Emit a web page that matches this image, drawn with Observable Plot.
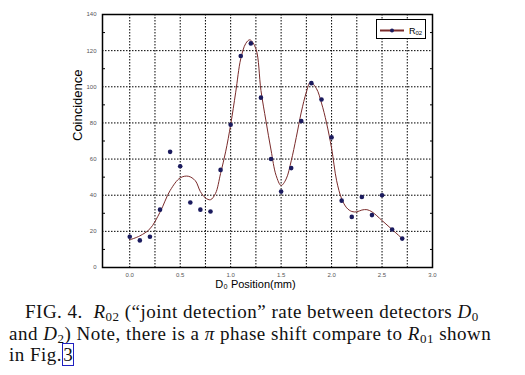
<!DOCTYPE html>
<html>
<head>
<meta charset="utf-8">
<script src="https://cdn.jsdelivr.net/npm/d3@7"></script>
<script src="https://cdn.jsdelivr.net/npm/@observablehq/plot@0.6"></script>
<style>
  html, body { margin: 0; padding: 0; background: #fff; }
  #wrap { position: relative; width: 525px; }
  #legend { position: absolute; left: 376px; top: 19px; width: 50px; height: 20px; border: 1px solid #000; background: #fff; box-sizing: border-box; }
  #caption { font-family: "Liberation Serif", "DejaVu Serif", serif; font-size: 19px; letter-spacing: 0.5px; line-height: 21.7px; color: #111; padding-left: 9px; margin-top: 3px; white-space: nowrap; }
  #caption .l1 { padding-left: 16px; }
  .sub { font-size: 13px; position: relative; top: 3px; line-height: 0; vertical-align: baseline; }
  .lnk { border: 1px solid #2020c0; line-height: 0; }
</style>
</head>
<body>
<div id="wrap">
  <div id="chart"></div>
  <div id="legend"></div>
  <div id="caption">
    <span class="l1">FIG. 4.&nbsp; <i>R</i><span class="sub">02</span> (“joint detection” rate between detectors <i>D</i><span class="sub">0</span></span><br>
    and <i>D</i><span class="sub">2</span>) Note, there is a <i>π</i> phase shift compare to <i>R</i><span class="sub">01</span> shown<br>
    in Fig.<span class="lnk">3</span>
  </div>
</div>
<script>
// measured points
const posX = [0.0, 0.1, 0.2, 0.3, 0.4, 0.5, 0.6, 0.7, 0.8, 0.9, 1.0, 1.1, 1.2, 1.3, 1.4, 1.5, 1.6, 1.7, 1.8, 1.9, 2.0, 2.1, 2.2, 2.3, 2.4, 2.5, 2.6, 2.7];
const counts = [17, 15, 17, 32, 64, 56, 36, 32, 31, 54, 79, 117, 124, 94, 60, 42, 55, 81, 102, 93, 72, 37, 28, 39, 29, 40, 21, 16];
// fitted curve
const fitX = [0.0, 0.1, 0.2, 0.3, 0.4, 0.5, 0.58, 0.65, 0.7, 0.75, 0.8, 0.85, 0.9, 0.95, 1.0, 1.05, 1.1, 1.15, 1.19, 1.25, 1.3, 1.35, 1.4, 1.45, 1.5, 1.55, 1.6, 1.65, 1.7, 1.75, 1.79, 1.85, 1.9, 1.95, 2.0, 2.05, 2.1, 2.15, 2.2, 2.25, 2.3, 2.35, 2.4, 2.5, 2.6, 2.7];
const fitY = [15.3, 17.5, 21.4, 30.6, 42.6, 49.6, 50.5, 48, 42, 38.5, 37.5, 41, 52, 64, 79, 97, 115.5, 124, 126, 121, 98, 81, 65, 51, 45.4, 49, 59, 72, 86, 97, 102.5, 99, 91, 80, 66, 48, 38, 33, 31, 30.8, 31.8, 32, 30.8, 26, 21, 16];
const xTicks = [0.0, 0.5, 1.0, 1.5, 2.0, 2.5, 3.0];
const yTicks = [0, 20, 40, 60, 80, 100, 120, 140];
const gridX = [0.0, 0.25, 0.5, 0.75, 1.0, 1.25, 1.5, 1.75, 2.0, 2.25, 2.5, 2.75];
const gridY = [20, 40, 60, 80, 100, 120];
const minorY = [10, 30, 50, 70, 90, 110, 130];
const seriesName = "R02";

const pts = posX.map((x, i) => ({x, y: counts[i]}));
const fit = fitX.map((x, i) => ({x, y: fitY[i]}));

const navy = "#1b1b5e";
const red = "#7a2b2b";

const chart = Plot.plot({
  width: 525,
  height: 298,
  marginLeft: 102,
  marginRight: 93,
  marginTop: 14,
  marginBottom: 31,
  x: {domain: [-0.27, 3.0]},
  y: {domain: [0, 140]},
  style: {fontFamily: "'Liberation Sans', Arial, sans-serif", background: "#fff", color: "#000"},
  marks: [
    Plot.ruleX(gridX, {stroke: "#000", strokeWidth: 1, strokeDasharray: "1.5,1.5"}),
    Plot.ruleY(gridY, {stroke: "#000", strokeWidth: 1, strokeDasharray: "1.5,1.5"}),
    Plot.axisY({anchor: "left", ticks: minorY, tickSize: -3, tickFormat: () => "", label: null}),
    Plot.axisY({anchor: "right", ticks: minorY, tickSize: -3, tickFormat: () => "", label: null}),
    Plot.axisY({anchor: "left", ticks: yTicks, tickSize: 0, tickPadding: 6, fontSize: 6, fill: "#555", label: null}),
    Plot.axisX({anchor: "bottom", ticks: xTicks, tickSize: 0, tickPadding: 5, fontSize: 6, fill: "#555", tickFormat: d3.format(".1f"), label: null}),
    Plot.line(fit, {x: "x", y: "y", stroke: red, strokeWidth: 1, curve: "catmull-rom"}),
    Plot.dot(pts, {x: "x", y: "y", r: 2.3, fill: navy, stroke: "none"}),
    Plot.frame({stroke: "#000", strokeWidth: 1.5}),
    Plot.text(["Coincidence"], {frameAnchor: "left", rotate: -90, dx: -24.5, fontSize: 13, text: d => d, fill: "#000"}),
    Plot.text(["D₀ Position(mm)"], {frameAnchor: "bottom", dx: -12, dy: 20, fontSize: 11, text: d => d, fill: "#000"})
  ]
});
document.getElementById("chart").appendChild(chart);

// legend
const lg = d3.select("#legend").append("svg").attr("width", 50).attr("height", 20);
lg.append("line").attr("x1", 3).attr("x2", 27).attr("y1", 10.5).attr("y2", 10.5).attr("stroke", red).attr("stroke-width", 2);
lg.append("circle").attr("cx", 15).attr("cy", 10.5).attr("r", 2).attr("fill", navy);
const t = lg.append("text").attr("x", 32).attr("y", 14).attr("font-family", "'Liberation Sans', Arial, sans-serif").attr("font-size", 9).attr("fill", "#000");
t.append("tspan").text(seriesName.slice(0, 1));
t.append("tspan").attr("font-size", 6).attr("dy", 1).text(seriesName.slice(1));
</script>
</body>
</html>
